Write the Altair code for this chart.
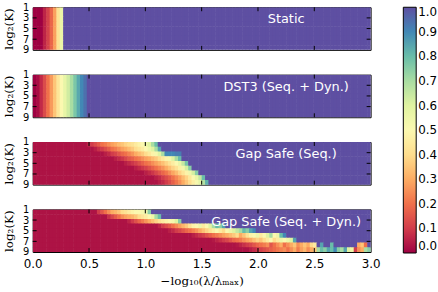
import altair as alt
import pandas as pd

# Grid: 100 regularization values over -log10(lambda/lambda_max) in [0, 3],
# 9 values of log2(K).
N_COLS = 100
X_MAX = 3.0
LOG2_K = [1, 2, 3, 4, 5, 6, 7, 8, 9]

X_TICKS = [0.5, 1.0, 1.5, 2.0, 2.5]
Y_TICKS = [3, 5, 7]
Y_LABELS = [1, 3, 5, 7, 9]
X_LABELS = [0.0, 0.5, 1.0, 1.5, 2.0, 2.5, 3.0]
CBAR_TICKS = [0.0, 0.1, 0.2, 0.3, 0.4, 0.5, 0.6, 0.7, 0.8, 0.9, 1.0]

TITLES = ["Static", "DST3 (Seq. + Dyn.)", "Gap Safe (Seq.)", "Gap Safe (Seq. + Dyn.)"]

# Fraction of screened variables; cells after each profile are fully screened (1.0).
static_profile = [0.0, 0.0, 0.0, 0.06, 0.11, 0.18, 0.28, 0.42, 0.56]
dst3_profile = [0.0, 0.02, 0.07, 0.13, 0.2, 0.27, 0.35, 0.43, 0.5, 0.57,
                0.63, 0.7, 0.77, 0.84, 0.9, 0.94]

# Gap Safe (Seq.): (first column of the transition, values along it), one per log2(K)
gap_seq_rows = [
    (16, [0.06, 0.1, 0.13, 0.16, 0.2, 0.22, 0.25, 0.28, 0.3, 0.33, 0.35, 0.38, 0.4,
          0.42, 0.45, 0.48, 0.5, 0.55, 0.6, 0.7, 0.8]),
    (18, [0.05, 0.08, 0.1, 0.13, 0.16, 0.2, 0.22, 0.25, 0.28, 0.3, 0.33, 0.36, 0.4,
          0.43, 0.46, 0.5, 0.55, 0.6, 0.7, 0.85]),
    (21, [0.05, 0.07, 0.1, 0.12, 0.15, 0.18, 0.2, 0.23, 0.26, 0.3, 0.33, 0.36, 0.4,
          0.44, 0.48, 0.52, 0.6, 0.7, 0.9, 0.9, 0.9, 0.92, 0.92]),
    (24, [0.05, 0.07, 0.09, 0.12, 0.15, 0.17, 0.2, 0.22, 0.25, 0.28, 0.3, 0.33, 0.36,
          0.4, 0.44, 0.48, 0.52, 0.6, 0.7, 0.8]),
    (27, [0.05, 0.07, 0.09, 0.11, 0.14, 0.17, 0.2, 0.22, 0.25, 0.28, 0.31, 0.34, 0.38,
          0.42, 0.46, 0.5, 0.56, 0.65, 0.78]),
    (30, [0.05, 0.07, 0.09, 0.11, 0.14, 0.17, 0.2, 0.23, 0.26, 0.3, 0.34, 0.38, 0.42,
          0.47, 0.53, 0.62, 0.75]),
    (33, [0.05, 0.07, 0.09, 0.12, 0.15, 0.18, 0.21, 0.25, 0.29, 0.33, 0.38, 0.43, 0.48,
          0.54, 0.62, 0.75]),
    (36, [0.05, 0.07, 0.1, 0.13, 0.16, 0.2, 0.24, 0.28, 0.33, 0.38, 0.44, 0.5, 0.56,
          0.65, 0.8]),
    (37, [0.05, 0.07, 0.1, 0.13, 0.17, 0.21, 0.25, 0.3, 0.35, 0.4, 0.46, 0.52, 0.58,
          0.68, 0.82]),
]

# Gap Safe (Seq. + Dyn.)
gap_dyn_rows = [
    (19, [0.1, 0.15, 0.2, 0.25, 0.3, 0.32, 0.35, 0.4, 0.42, 0.45, 0.48, 0.5, 0.5,
          0.52, 0.55, 0.75]),
    (22, [0.08, 0.12, 0.16, 0.2, 0.25, 0.28, 0.3, 0.32, 0.35, 0.4, 0.43, 0.46, 0.5,
          0.55, 0.7, 0.8]),
    (28, [0.06, 0.1, 0.14, 0.18, 0.22, 0.26, 0.3, 0.34, 0.38, 0.42, 0.45, 0.48, 0.5,
          0.52, 0.6, 0.75]),
    (37, [0.06, 0.1, 0.13, 0.16, 0.2, 0.24, 0.28, 0.32, 0.36, 0.42, 0.48, 0.5, 0.55,
          0.45, 0.5, 0.6, 0.7, 0.8, 0.75, 0.85]),
    (40, [0.05, 0.07, 0.1, 0.12, 0.15, 0.18, 0.2, 0.23, 0.26, 0.3, 0.34, 0.38, 0.42,
          0.46, 0.5, 0.45, 0.4, 0.5, 0.55, 0.6, 0.65, 0.7, 0.8, 0.75, 0.85, 0.9]),
    (47, [0.05, 0.07, 0.09, 0.11, 0.14, 0.17, 0.2, 0.22, 0.25, 0.28, 0.3, 0.33, 0.36,
          0.4, 0.3, 0.35, 0.42, 0.48, 0.5, 0.55, 0.45, 0.5, 0.6, 0.7, 0.5, 0.55, 0.8, 0.9]),
    (53, [0.04, 0.06, 0.08, 0.1, 0.12, 0.15, 0.18, 0.2, 0.22, 0.25, 0.28, 0.3, 0.34,
          0.38, 0.35, 0.4, 0.45, 0.5, 0.4, 0.45, 0.55, 0.5, 0.55, 0.6, 0.85]),
    (60, [0.04, 0.06, 0.08, 0.1, 0.12, 0.15, 0.18, 0.2, 0.22, 0.25, 0.15, 0.2, 0.25,
          0.3, 0.2, 0.25, 0.3, 0.35, 0.25, 0.3, 0.35, 0.3, 0.4, 0.45, 1.0, 0.85, 1.0,
          1.0, 0.8, 1.0, 1.0, 1.0, 1.0, 1.0, 1.0, 1.0, 0.3, 0.35, 0.2, 1.0]),
    (63, [0.03, 0.05, 0.07, 0.09, 0.11, 0.13, 0.15, 0.17, 0.19, 0.21, 0.23, 0.25, 0.2,
          0.25, 0.3, 0.22, 0.28, 0.32, 0.25, 0.3, 0.35, 0.7, 0.8, 0.75, 0.85, 0.8, 0.9,
          0.75, 0.7, 0.85, 0.6, 0.55, 0.1, 0.25, 0.3, 0.7, 0.75]),
]

GAP_BACKGROUND = 0.03

W, H = 341, 43
TICK_LEN = 4
SEAM = 0.6  # small overlap between neighbouring cells hides anti-aliasing seams


def build_grid(rows, background):
    recs = []
    step = X_MAX / N_COLS
    dy = (LOG2_K[-1] - LOG2_K[0]) / len(LOG2_K)
    for r, (start, vals) in enumerate(rows):
        line = [background] * start + list(vals)
        line = (line + [1.0] * N_COLS)[:N_COLS]
        for c, v in enumerate(line):
            recs.append({
                "x0": c * step, "x1": (c + 1) * step,
                "y0": LOG2_K[0] + r * dy, "y1": LOG2_K[0] + (r + 1) * dy,
                "v": v,
            })
    return pd.DataFrame(recs)


grids = [
    build_grid([(0, static_profile)] * len(LOG2_K), 0.0),
    build_grid([(0, dst3_profile)] * len(LOG2_K), 0.0),
    build_grid(gap_seq_rows, GAP_BACKGROUND),
    build_grid(gap_dyn_rows, GAP_BACKGROUND),
]

x_scale = alt.Scale(domain=[0, X_MAX], nice=False, zero=False)
y_scale = alt.Scale(domain=[LOG2_K[0], LOG2_K[-1]], nice=False, zero=False, reverse=True)
c_scale = alt.Scale(scheme="spectral", domain=[0, 1], nice=False, zero=False)

legend = alt.Legend(
    title=None, orient="right", type="gradient", direction="vertical",
    gradientLength=248, gradientThickness=13, gradientStrokeColor="black",
    gradientStrokeWidth=1, values=CBAR_TICKS, format=".1f",
    labelFontSize=12, labelFont="DejaVu Sans", labelColor="black",
    labelOverlap=False, offset=22, padding=0,
)

y_axis = alt.Axis(
    values=Y_LABELS, title="log₂(K)", titleFont="DejaVu Serif", titleFontSize=12,
    titleFontWeight="normal", titleColor="black", ticks=False, domain=False,
    labelFontSize=10, labelFont="DejaVu Sans", labelColor="black", labelPadding=4,
    labelOverlap=False, labelBound=False, minExtent=12, maxExtent=12,
    titlePadding=5, grid=False,
)
x_axis = alt.Axis(
    values=X_LABELS, format=".1f",
    title="−log₁₀(λ/λₘₐₓ)", titleFont="DejaVu Serif", titleFontSize=12,
    titleFontWeight="normal", titleColor="black", ticks=False, domain=False,
    labelFontSize=12, labelFont="DejaVu Sans", labelColor="black", labelPadding=7,
    labelOverlap=False, titlePadding=6, grid=False, labelFlush=False,
)


def panel(df, title, bottom):
    xa = x_axis if bottom else None
    heat = alt.Chart(df).mark_rect(strokeWidth=0, x2Offset=SEAM, y2Offset=SEAM, clip=True).encode(
        x=alt.X("x0:Q", scale=x_scale, axis=xa),
        x2="x1:Q",
        y=alt.Y("y0:Q", scale=y_scale, axis=y_axis),
        y2="y1:Q",
        color=alt.Color("v:Q", scale=c_scale, legend=legend),
    )
    label = alt.Chart(pd.DataFrame({"label": [title]})).mark_text(
        color="white", fontSize=13, font="DejaVu Sans", align="center", baseline="middle"
    ).encode(
        x=alt.datum(2.25, scale=x_scale, axis=xa),
        y=alt.datum(3.3, scale=y_scale, axis=y_axis),
        text="label:N",
    )
    xt = pd.DataFrame({"t": X_TICKS})
    yt = pd.DataFrame({"k": Y_TICKS})
    top_ticks = alt.Chart(xt).mark_rule(color="black", strokeWidth=1).encode(
        x=alt.X("t:Q", scale=x_scale, axis=xa), y=alt.value(0), y2=alt.value(TICK_LEN))
    bot_ticks = alt.Chart(xt).mark_rule(color="black", strokeWidth=1).encode(
        x=alt.X("t:Q", scale=x_scale, axis=xa), y=alt.value(H - TICK_LEN), y2=alt.value(H))
    left_ticks = alt.Chart(yt).mark_rule(color="black", strokeWidth=1).encode(
        y=alt.Y("k:Q", scale=y_scale, axis=y_axis), x=alt.value(0), x2=alt.value(TICK_LEN))
    right_ticks = alt.Chart(yt).mark_rule(color="black", strokeWidth=1).encode(
        y=alt.Y("k:Q", scale=y_scale, axis=y_axis), x=alt.value(W - TICK_LEN), x2=alt.value(W))
    return alt.layer(heat, label, top_ticks, bot_ticks, left_ticks, right_ticks).properties(
        width=W, height=H
    )


panels = [panel(g, t, i == len(grids) - 1) for i, (g, t) in enumerate(zip(grids, TITLES))]

chart = alt.vconcat(*panels, spacing=25, bounds="flush").resolve_scale(
    color="shared"
).properties(
    padding={"left": 2, "top": 0, "right": 0, "bottom": 0},
    background="white",
).configure_view(
    stroke="black", strokeWidth=1
)

chart.save("out.html", embed_options={"renderer": "svg", "actions": False})
